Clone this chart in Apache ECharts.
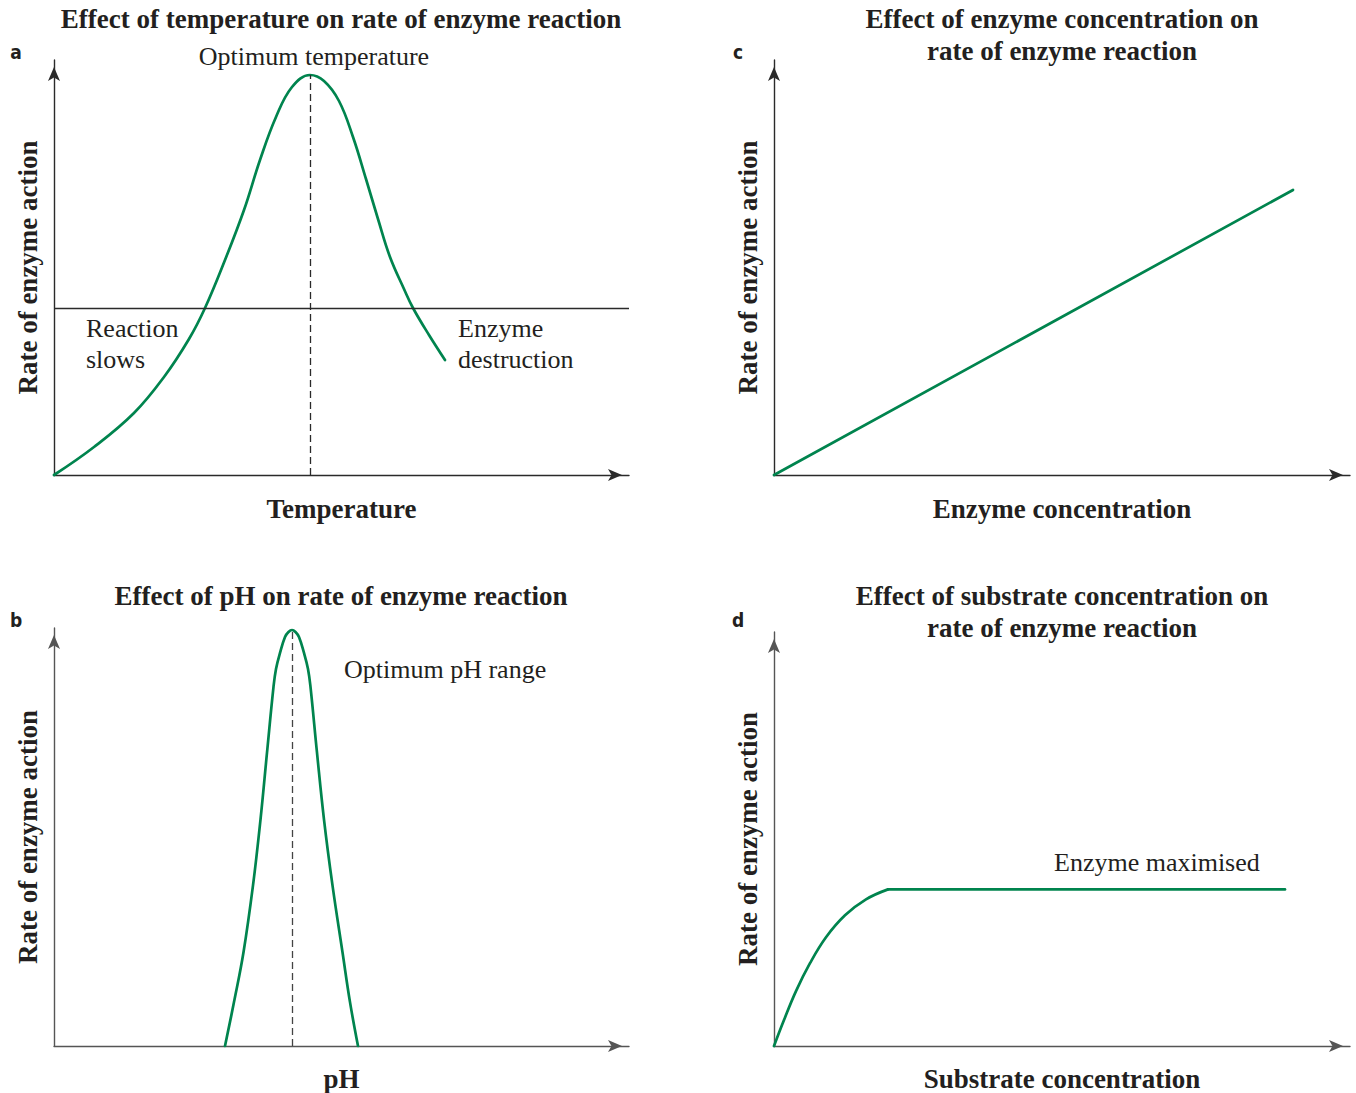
<!DOCTYPE html>
<html>
<head>
<meta charset="utf-8">
<script src="https://cdn.jsdelivr.net/npm/echarts@6/dist/echarts.min.js"></script>
<style>
  html, body { margin: 0; padding: 0; background: #ffffff; }
  #chart { width: 1356px; height: 1093px; }
</style>
</head>
<body>
<div id="chart"></div>
<script>
// ---- Data (arbitrary units measured from each plot's origin) ----

// a: rate vs temperature
const tempCurve = [[0, 0], [40, 28], [80, 62], [110, 98], [135, 136], [151, 167], [171, 215],
  [190, 265], [206, 315], [222, 358], [238, 388], [256, 400], [270, 394], [285, 374], [299, 338],
  [312, 296], [324, 256], [336, 218], [350, 186], [359, 167], [375, 140], [391, 115]];
const tempThreshold = 167;   // horizontal reference level
const tempOptimumX = 256;    // optimum temperature
const tempPeak = 400;

// b: rate vs pH
const phCurve = [[171, 0], [180, 44], [189.5, 94], [199, 161], [206.5, 227], [213, 294], [219.5, 360],
  [222, 378], [226, 394], [231, 410], [234.5, 415], [238, 417], [241.5, 415], [245, 410], [250, 394],
  [254, 378], [256.5, 360], [263, 294], [270, 227], [278.5, 161], [288.5, 94], [296, 44], [304, 0]];
const phOptimumX = 238;
const phPeak = 417;

// c: rate vs enzyme concentration
const enzymeLine = [[0, 0], [519, 285]];

// d: rate vs substrate concentration
const substrateRise = [[0, 0], [10, 26], [22, 55], [36, 83], [52, 109], [71, 131], [92, 147], [114, 157]];
const substratePlateau = [[114, 157], [511, 157]];

// Panel titles, axis names and annotations
const titles = [
  'Effect of temperature on rate of enzyme reaction',
  'Effect of pH on rate of enzyme reaction',
  'Effect of enzyme concentration on\nrate of enzyme reaction',
  'Effect of substrate concentration on\nrate of enzyme reaction'
];
const xNames = ['Temperature', 'pH', 'Enzyme concentration', 'Substrate concentration'];
const yName = 'Rate of enzyme action';
const panelLetters = ['a', 'b', 'c', 'd'];

// ---- Styling ----
const GREEN = '#00844e';
const INK = '#231f20';
const SERIF = '"Liberation Serif", "Times New Roman", serif';
const FS_BOLD = 27;
const FS_NOTE = 26;

const panels = [
  // a, b, c, d : plot frames
  { left: 54, top: 60, width: 575, height: 415, xMax: 575, yMax: 415, axis: '#2a2a2a' },
  { left: 54, top: 628, width: 575, height: 419, xMax: 575, yMax: 419, axis: '#555555' },
  { left: 774, top: 60, width: 576, height: 415, xMax: 576, yMax: 415, axis: '#2a2a2a' },
  { left: 774, top: 632, width: 576, height: 415, xMax: 576, yMax: 415, axis: '#555555' }
];

function axisLine(color) {
  return {
    show: true,
    onZero: false,
    symbol: ['none', 'arrow'],
    symbolSize: [9, 14],
    symbolOffset: [0, -7],
    lineStyle: { color: color, width: 1.4 }
  };
}

const grid = panels.map(p => ({ left: p.left, top: p.top, width: p.width, height: p.height }));

const xAxis = panels.map((p, i) => ({
  type: 'value', gridIndex: i, min: 0, max: p.xMax,
  axisLine: axisLine(p.axis), axisTick: { show: false }, axisLabel: { show: false },
  splitLine: { show: false },
  name: xNames[i], nameLocation: 'middle', nameGap: i % 2 === 0 ? 20 : 19,
  nameTextStyle: { fontFamily: SERIF, fontWeight: 'bold', fontSize: FS_BOLD, color: INK }
}));

const yAxis = panels.map((p, i) => ({
  type: 'value', gridIndex: i, min: 0, max: p.yMax,
  axisLine: axisLine(p.axis), axisTick: { show: false }, axisLabel: { show: false },
  splitLine: { show: false },
  name: yName, nameLocation: 'middle', nameGap: 13, nameRotate: 90,
  nameTextStyle: { fontFamily: SERIF, fontWeight: 'bold', fontSize: FS_BOLD, color: INK }
}));

function curve(idx, data) {
  return {
    type: 'line', xAxisIndex: idx, yAxisIndex: idx, data: data,
    smooth: 0.4, symbol: 'none', silent: true, clip: false,
    lineStyle: { color: GREEN, width: 2.7, cap: 'round', join: 'round' }
  };
}

function refLines(lines) {
  return {
    silent: true, symbol: 'none', animation: false,
    label: { show: false },
    emphasis: { disabled: true },
    data: lines
  };
}

const series = [
  Object.assign(curve(0, tempCurve), {
    markLine: refLines([
      [{ coord: [0, tempThreshold], lineStyle: { color: '#2a2a2a', width: 1.3, type: 'solid' } },
       { coord: [panels[0].xMax, tempThreshold] }],
      [{ coord: [tempOptimumX, 0], lineStyle: { color: '#2a2a2a', width: 1.3, type: [7, 4] } },
       { coord: [tempOptimumX, tempPeak] }]
    ])
  }),
  Object.assign(curve(1, phCurve), {
    markLine: refLines([
      [{ coord: [phOptimumX, 0], lineStyle: { color: '#444444', width: 1.3, type: [7, 4] } },
       { coord: [phOptimumX, phPeak] }]
    ])
  }),
  curve(2, enzymeLine),
  curve(3, substrateRise),
  curve(3, substratePlateau)
];

const titleStyle = { fontFamily: SERIF, fontWeight: 'bold', fontSize: FS_BOLD, color: INK, lineHeight: 32 };
const title = [
  { text: titles[0], left: 341, top: 3, textAlign: 'center', padding: 0, textStyle: titleStyle },
  { text: titles[1], left: 341, top: 580, textAlign: 'center', padding: 0, textStyle: titleStyle },
  { text: titles[2], left: 1062, top: 3, textAlign: 'center', padding: 0, textStyle: titleStyle },
  { text: titles[3], left: 1062, top: 580, textAlign: 'center', padding: 0, textStyle: titleStyle }
];

function note(x, y, text, align) {
  return {
    type: 'text', x: x, y: y, silent: true,
    style: {
      text: text, fill: INK, font: FS_NOTE + 'px ' + SERIF,
      textAlign: align || 'left', textVerticalAlign: 'middle', lineHeight: 31
    }
  };
}
function letter(x, y, text) {
  return {
    type: 'text', x: x, y: y, silent: true,
    style: {
      text: text, fill: INK, font: 'bold 19px "DejaVu Sans Condensed", "Liberation Sans", sans-serif',
      textAlign: 'center', textVerticalAlign: 'middle'
    }
  };
}

const graphic = [
  letter(16, 52, panelLetters[0]),
  letter(16, 620, panelLetters[1]),
  letter(738, 52, panelLetters[2]),
  letter(738, 620, panelLetters[3]),
  note(314, 56, 'Optimum temperature', 'center'),
  note(86, 344, 'Reaction\nslows'),
  note(458, 344, 'Enzyme\ndestruction'),
  note(344, 669, 'Optimum pH range'),
  note(1054, 862, 'Enzyme maximised')
];

const chart = echarts.init(document.getElementById('chart'), null, { renderer: 'svg' });
chart.setOption({
  backgroundColor: '#ffffff',
  animation: false,
  title: title,
  grid: grid,
  xAxis: xAxis,
  yAxis: yAxis,
  series: series,
  graphic: graphic
});
</script>
</body>
</html>
